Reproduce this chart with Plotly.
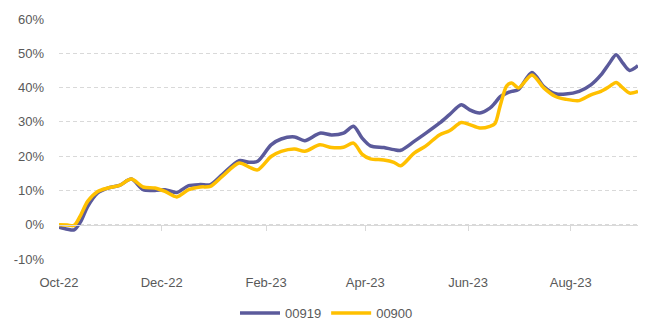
import plotly.graph_objects as go

dates = [
    "2022-10-01", "2022-10-06", "2022-10-10", "2022-10-14", "2022-10-18", "2022-10-24",
    "2022-10-30", "2022-11-06", "2022-11-13", "2022-11-20", "2022-11-27", "2022-12-03",
    "2022-12-10", "2022-12-17", "2022-12-24", "2022-12-30", "2023-01-06", "2023-01-16",
    "2023-01-22", "2023-01-27", "2023-02-04", "2023-02-10", "2023-02-18", "2023-02-24",
    "2023-03-05", "2023-03-12", "2023-03-19", "2023-03-25", "2023-03-30", "2023-04-04",
    "2023-04-12", "2023-04-18", "2023-04-22", "2023-04-30", "2023-05-07", "2023-05-15",
    "2023-05-21", "2023-05-28", "2023-06-02", "2023-06-08", "2023-06-14", "2023-06-17",
    "2023-06-20", "2023-06-24", "2023-06-27", "2023-07-01", "2023-07-09", "2023-07-16",
    "2023-07-23", "2023-07-29", "2023-08-06", "2023-08-13", "2023-08-19", "2023-08-24",
    "2023-08-28", "2023-09-01", "2023-09-05", "2023-09-10",
]

s00919 = [
    -0.7, -1.3, -1.5, 1.0, 5.3, 9.3,
    10.7, 11.5, 13.3, 10.2, 10.0, 10.2,
    9.4, 11.4, 11.7, 11.7, 14.6, 18.7,
    18.2, 18.5, 23.3, 25.0, 25.6, 24.5,
    26.7, 26.2, 26.7, 28.7, 25.3, 23.0,
    22.5, 21.9, 21.7, 24.3, 26.7, 29.6,
    32.1, 35.0, 33.5, 32.6, 34.0, 35.5,
    37.3, 38.4, 38.9, 39.4, 44.4, 40.3,
    38.2, 38.1, 38.9, 40.8, 43.7, 47.1,
    49.6, 47.1, 45.0, 46.4,
]

s00900 = [
    0.0, -0.1, -0.2, 2.9, 6.8, 9.7,
    10.7, 11.5, 13.3, 11.0, 10.7, 9.7,
    8.1, 10.2, 11.0, 11.2, 14.1, 18.0,
    16.8, 16.0, 19.9, 21.4, 22.1, 21.4,
    23.3, 22.5, 22.6, 23.8, 20.6, 19.2,
    18.9, 18.2, 17.2, 20.9, 23.0, 26.2,
    27.4, 29.8, 29.2, 28.2, 28.7, 29.5,
    34.5, 40.5, 41.3, 39.9, 43.7, 39.9,
    37.4, 36.6, 36.2, 37.9, 38.9, 40.3,
    41.5, 39.9, 38.4, 38.9,
]

x_ticks = ["2022-10-01", "2022-12-01", "2023-02-01", "2023-04-01", "2023-06-01", "2023-08-01"]
x_tick_labels = ["Oct-22", "Dec-22", "Feb-23", "Apr-23", "Jun-23", "Aug-23"]
y_ticks = [-0.1, 0.0, 0.1, 0.2, 0.3, 0.4, 0.5, 0.6]
y_tick_labels = ["-10%", "0%", "10%", "20%", "30%", "40%", "50%", "60%"]

FONT = "Liberation Sans, Arial, sans-serif"
GRID = "#d9d9d9"
TXT = "#595959"

fig = go.Figure()
fig.add_trace(go.Scatter(
    x=dates, y=[v / 100 for v in s00919], name="00919", mode="lines",
    line=dict(color="#5B5A9B", width=3.5, shape="spline", smoothing=0.8),
))
fig.add_trace(go.Scatter(
    x=dates, y=[v / 100 for v in s00900], name="00900", mode="lines",
    line=dict(color="#FFC000", width=3.5, shape="spline", smoothing=0.8),
))
# invisible trace on overlay axis carrying the zero-line axis with tick marks
fig.add_trace(go.Scatter(
    x=[dates[0], dates[-1]], y=[0, 0], xaxis="x2", mode="lines",
    line=dict(width=0), showlegend=False, hoverinfo="skip",
))

yr = [-0.1, 0.6]
fig.update_layout(
    width=666, height=330,
    margin=dict(l=59, r=28, t=19, b=71, autoexpand=False),
    paper_bgcolor="white", plot_bgcolor="white",
    font=dict(family=FONT, size=13, color=TXT),
    showlegend=True,
    legend=dict(orientation="h", x=0.462, xanchor="center", y=-0.225, yanchor="middle",
                font=dict(size=13, color=TXT), itemwidth=40, traceorder="normal"),
    xaxis=dict(
        type="date", range=[dates[0], dates[-1]],
        tickvals=x_ticks, ticktext=x_tick_labels,
        showgrid=False, showline=False, zeroline=False, ticks="",
        ticklabelstandoff=14, automargin=False,
    ),
    xaxis2=dict(
        type="date", range=[dates[0], dates[-1]], overlaying="x", anchor="free",
        position=(0 - yr[0]) / (yr[1] - yr[0]), side="bottom",
        tickvals=x_ticks[1:], showticklabels=False,
        showline=True, linecolor=GRID, linewidth=1,
        ticks="outside", ticklen=5, tickcolor=GRID, tickwidth=1,
        showgrid=False, zeroline=False, automargin=False,
    ),
    yaxis=dict(
        range=yr, tickvals=y_ticks, ticktext=y_tick_labels,
        showgrid=True, gridcolor=GRID, gridwidth=1, griddash="4px,3px",
        zeroline=False, showline=False, ticks="", ticklabelstandoff=14,
        automargin=False,
    ),
)

fig.write_html("out.html")
